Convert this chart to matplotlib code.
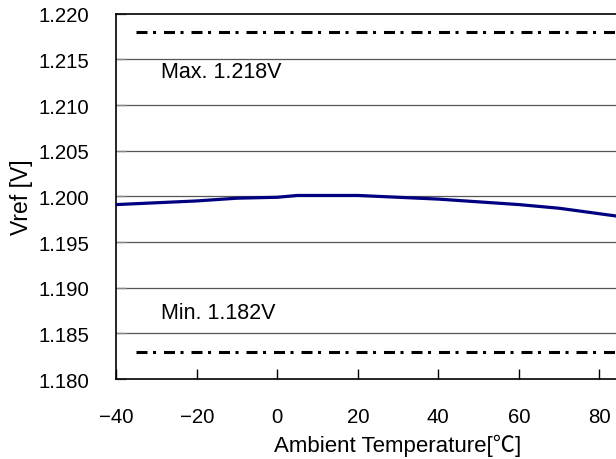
import matplotlib
matplotlib.use('Agg')
import matplotlib.pyplot as plt

plt.rcParams['font.family'] = ['Liberation Sans', 'Noto Sans CJK JP']

# Data
temps = [-40, -30, -20, -10, 0, 5, 10, 20, 25, 30, 40, 50, 60, 70, 85]
vref = [1.1991, 1.1993, 1.1995, 1.1998, 1.1999, 1.2001, 1.2001, 1.2001,
        1.2000, 1.1999, 1.1997, 1.1994, 1.1991, 1.1987, 1.1978]
limit_x = [-35, 100]
max_limit = 1.218
min_limit = 1.183
x_ticks = [-40, -20, 0, 20, 40, 60, 80]
y_ticks = [1.180, 1.185, 1.190, 1.195, 1.200, 1.205, 1.210, 1.215, 1.220]

fig = plt.figure(figsize=(6.16, 4.6), dpi=100)
ax = fig.add_axes([0.1888, 0.1739, 0.9148, 0.7941])

for y in y_ticks[1:-1]:
    ax.axhline(y, color='#555555', lw=0.9, zorder=1)

ax.plot(limit_x, [max_limit, max_limit], color='black', lw=2.2,
        dashes=(3.6, 1.8, 1, 2.6), dash_capstyle='butt', zorder=2)
ax.plot(limit_x, [min_limit, min_limit], color='black', lw=2.2,
        dashes=(3.6, 1.8, 1, 2.6), dash_capstyle='butt', zorder=2)
ax.plot(temps, vref, color='#000080', lw=2.3, zorder=3)

ax.text(-29, 1.2137, 'Max. 1.218V', fontsize=15.5, va='center', ha='left')
ax.text(-29, 1.1873, 'Min. 1.182V', fontsize=15.5, va='center', ha='left')

ax.set_xlim(-40, 100)
ax.set_ylim(1.180, 1.220)
ax.set_xticks(x_ticks)
ax.set_yticks(y_ticks)
ax.set_yticklabels([f'{v:.3f}' for v in y_ticks])
ax.set_xticklabels([str(v).replace('-', '\u2212') for v in x_ticks])
ax.tick_params(axis='x', direction='in', length=7, width=1, color='black',
               labelsize=14.7, pad=20)
ax.tick_params(axis='y', direction='in', length=7, width=1, color='#888888',
               labelsize=14.7, pad=19.5)
for s in ax.spines.values():
    s.set_linewidth(1.2)
    s.set_color('black')

ax.set_xlabel('Ambient Temperature[℃]', fontsize=16, labelpad=6)
ax.set_ylabel('Vref [V]', fontsize=16.5, labelpad=4)

fig.savefig('out.png', dpi=100)
